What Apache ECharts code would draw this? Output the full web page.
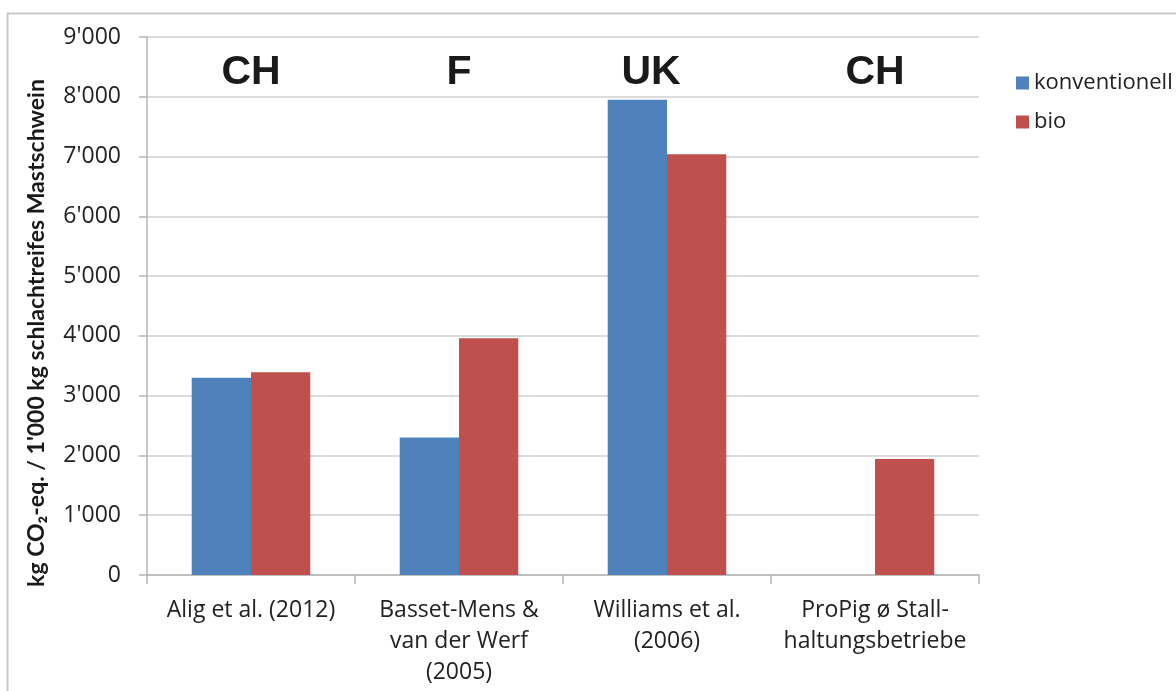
<!DOCTYPE html>
<html>
<head>
<meta charset="utf-8">
<script src="https://cdn.jsdelivr.net/npm/echarts@6/dist/echarts.min.js"></script>
<style>
  html, body { margin: 0; padding: 0; background: #fff; }
  #chart { width: 1176px; height: 691px; }
</style>
</head>
<body>
<div id="chart"></div>
<script>
  // Studien / Kategorien
  var categories = ['Alig et al. (2012)', 'Basset-Mens &\nvan der Werf\n(2005)', 'Williams et al.\n(2006)', 'ProPig ø Stall-\nhaltungsbetriebe'];
  var countries = ['CH', 'F', 'UK', 'CH'];
  // kg CO2-eq. / 1'000 kg schlachtreifes Mastschwein
  var konventionell = [3300, 2300, 7950, null];
  var bio = [3390, 3960, 7040, 1940];
  var yTicks = [0, 1000, 2000, 3000, 4000, 5000, 6000, 7000, 8000, 9000];

  var font = 'Open Sans';
  var myChart = echarts.init(document.getElementById('chart'));

  function fmt(v) {
    // 9000 -> 9'000
    return String(v).replace(/\B(?=(\d{3})+(?!\d))/g, "'");
  }

  myChart.setOption({
    animation: false,
    textStyle: { fontFamily: font },
    graphic: [
      {
        type: 'rect',
        shape: { x: 7.5, y: 13.5, width: 1200, height: 700 },
        style: { fill: 'none', stroke: '#c9c9c9', lineWidth: 2 },
        silent: true
      },
      {
        type: 'text',
        x: 37, y: 333,
        rotation: Math.PI / 2,
        style: {
          text: "kg CO₂-eq. / 1'000 kg schlachtreifes Mastschwein",
          font: 'bold 23px Lato',
          fill: '#1a1a1a',
          align: 'center',
          verticalAlign: 'middle'
        }
      }
    ],
    legend: {
      orient: 'vertical',
      left: 1011,
      top: 67,
      itemWidth: 13,
      itemHeight: 13,
      itemGap: 17,
      icon: 'rect',
      textStyle: { fontSize: 22, color: '#222', fontFamily: font },
      data: ['konventionell', 'bio']
    },
    grid: { left: 147, right: 197, top: 37, bottom: 116, containLabel: false },
    xAxis: [
      {
        type: 'category',
        data: categories,
        axisLine: { lineStyle: { color: '#b5b5b5', width: 1.5 } },
        axisTick: { show: true, interval: 0, length: 9, lineStyle: { color: '#b5b5b5', width: 1.5 } },
        axisLabel: {
          interval: 0,
          fontSize: 23, color: '#222', lineHeight: 31, margin: 20,
          fontFamily: font
        }
      },
      {
        type: 'category',
        position: 'top',
        data: categories,
        axisLine: { show: false },
        axisTick: { show: false },
        axisLabel: {
          interval: 0,
          inside: true,
          margin: 15,
          formatter: function (v, i) {
            return i === 2 ? '{uk|' + countries[i] + '}' : '{c|' + countries[i] + '}';
          },
          rich: {
            c: { fontSize: 41, fontWeight: 'bold', fontFamily: 'Liberation Sans', color: '#1a1a1a' },
            uk: { fontSize: 41, fontWeight: 'bold', fontFamily: 'Liberation Sans', color: '#1a1a1a', padding: [0, 32, 0, 0] }
          }
        }
      }
    ],
    yAxis: {
      type: 'value',
      min: yTicks[0],
      max: yTicks[yTicks.length - 1],
      interval: 1000,
      axisLine: { show: true, lineStyle: { color: '#b5b5b5', width: 1.5 } },
      axisTick: { show: true, length: 8, lineStyle: { color: '#b5b5b5', width: 1.5 } },
      splitLine: { lineStyle: { color: '#d0d0d0', width: 1.5 } },
      axisLabel: {
        fontSize: 23, color: '#222', margin: 26, fontFamily: font,
        formatter: fmt
      }
    },
    series: [
      {
        name: 'konventionell',
        type: 'bar',
        data: konventionell,
        itemStyle: { color: '#4f81bd' },
        barGap: '0%',
        barCategoryGap: '43%'
      },
      {
        name: 'bio',
        type: 'bar',
        data: bio,
        itemStyle: { color: '#c0504d' }
      }
    ]
  });
</script>
</body>
</html>
